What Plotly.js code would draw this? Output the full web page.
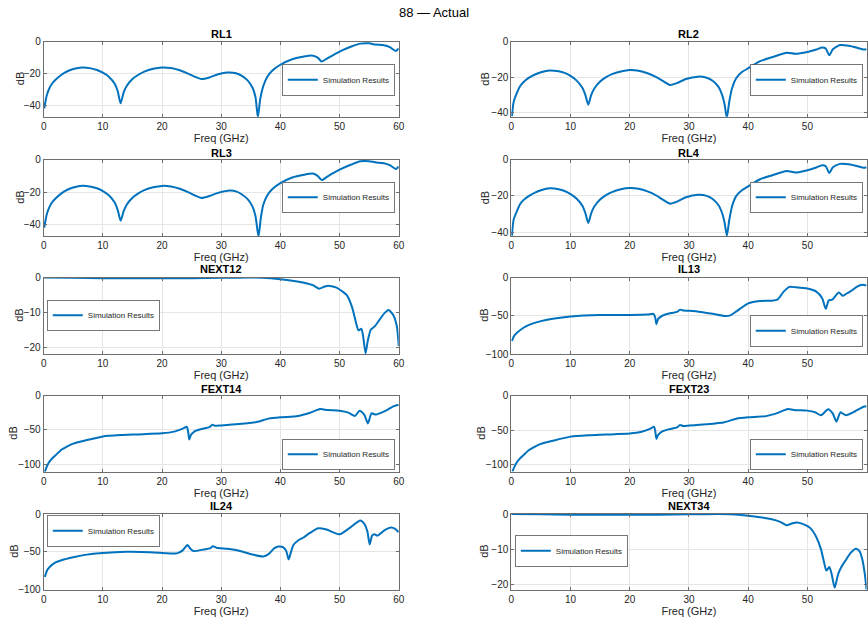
<!DOCTYPE html>
<html>
<head>
<meta charset="utf-8">
<script src="https://cdn.plot.ly/plotly-3.0.1.min.js"></script>
<style>html,body{margin:0;padding:0;background:#fff;}#chart{width:868px;height:619px;}</style>
</head>
<body>
<div id="chart"></div>
<script>
// ---------------- data ----------------
const titles = ["RL1","RL2","RL3","RL4","NEXT12","IL13","FEXT14","FEXT23","IL24","NEXT34"];
const seriesName = "Simulation Results";
const xTitle = "Freq (GHz)";
const yTitle = "dB";

const rl1X = [0.1,0.5,1,1.5,2,3,4,5,6.5,8,9,10,11,12,12.5,13,13.5,14,15,16,17,18.5,20,21.5,23,24.5,25.5,26.7,28,29.5,31,32.5,33.5,34.5,35.3,35.8,36.2,36.6,37.1,37.8,38.7,40,42,44,45.5,46.3,47,48,50,52,53.5,55,56,57.5,58.5,59.5,60];
const rl1Y = [-42,-34,-29,-26,-24,-20.8,-18.6,-17.2,-16.3,-16.8,-17.8,-19.5,-22,-26.5,-31,-38.8,-32,-28,-23.5,-20.8,-18.8,-17,-16.2,-16.6,-18,-20.2,-22,-23.5,-22.5,-20.5,-19.4,-19.8,-21.5,-24.5,-29,-35,-47.5,-36,-28,-22,-18,-14.5,-11,-9.3,-8.8,-10,-12.5,-10.3,-6.2,-3,-1.2,-1,-1.8,-2.2,-3.4,-5.8,-4.3];

const rl2X = [0.1,0.4,1,1.5,2,3,4,5,6.5,8,9,10,11,12,12.5,13,13.5,14,15,16,17,18.5,20,21.5,23,24.5,25.5,26.8,28,29.5,31.5,33,34,35,35.6,36,36.4,36.8,37.3,38,39,40,42,44,46.5,48,50,51.5,52.5,53.1,53.7,54.3,55.5,57,58.5,59.5,60];
const rl2Y = [-42,-34,-28.5,-25,-23,-20.3,-18.5,-17.2,-16.2,-16.7,-17.6,-19.3,-21.8,-26,-30,-35.5,-30,-26.5,-22.5,-20,-18.3,-16.8,-16,-16.4,-17.8,-20,-22,-24.4,-23.3,-21,-19.7,-20.3,-22,-25.5,-30,-35,-43,-34,-26,-20.5,-17,-15,-11,-8.8,-6.2,-6.8,-5.8,-4.4,-3.3,-3.9,-7.7,-4.3,-1.9,-2.3,-3.5,-4.4,-4.2];

const rl3X = [0.1,0.5,1,1.5,2,3,4,5,6.5,8,9,10,11,12,12.5,13,13.5,14,15,16,17,18.5,20,21.5,23,24.5,25.5,26.7,28,29.5,31.5,32.5,33.5,34.5,35.3,35.8,36.3,36.7,37.1,37.8,38.7,40,42,44,45.5,46.3,47,48,50,52,53.5,55,56,57.5,58.5,59.5,60];
const rl3Y = [-42,-34,-29,-26,-24,-20.8,-18.6,-17.2,-16.1,-16.7,-17.7,-19.4,-22,-26.5,-31,-37.7,-32,-28,-23.5,-20.8,-18.8,-17,-16.2,-16.6,-18,-20.2,-22,-23.7,-22.5,-20.5,-19.1,-19.6,-21.5,-24.5,-29,-35,-47.5,-36,-28,-22,-18,-14.5,-11,-9.3,-8.6,-10,-12.6,-10.3,-6.2,-3,-1,-0.9,-1.6,-2.2,-3.4,-5.8,-4.2];

const rl4X = [0.1,0.4,1,1.5,2,3,4,5,6.5,8,9,10,11,12,12.5,13,13.5,14,15,16,17,18.5,20,21.5,23,24.5,25.5,26.8,28,29.5,31.5,33,34,35,35.6,36,36.4,36.8,37.3,38,39,40,42,44,46.5,48,50,51.5,52.5,53.1,53.7,54.3,55.5,57,58.5,59.5,60];
const rl4Y = [-42,-33,-28,-24.5,-22.5,-20,-18.2,-16.9,-15.8,-16.3,-17.3,-19,-21.5,-25.5,-29.5,-35,-29.5,-26,-22,-19.6,-17.9,-16.4,-15.7,-16.1,-17.5,-19.8,-21.9,-24.3,-23.2,-20.8,-19.4,-20,-21.7,-25.2,-29.5,-34.5,-42,-33.5,-25.5,-20,-16.8,-14.8,-10.8,-8.7,-6.3,-7.1,-5.8,-4.3,-3.1,-3.6,-7.3,-4.2,-2.3,-2.5,-3.6,-4.5,-4.2];

const next12X = [0,5,10,15,20,25,30,35,37,40,42,44,45.5,46.5,47.5,48.3,49.5,50.5,51.2,52.1,52.8,53.2,53.7,54,54.4,54.8,55.3,56,56.8,57.6,58.3,59.1,59.7,60];
const next12Y = [0,-0.1,-0.2,-0.2,-0.2,-0.2,-0.1,0,-0.1,-0.5,-0.9,-1.5,-2.2,-3.2,-2.6,-2.4,-2.9,-4,-5,-8.4,-13,-15.1,-14.7,-17,-21.7,-17.9,-14.9,-13.9,-12,-10.2,-9.3,-10.8,-14.1,-19.6];

const il13X = [0.1,0.5,1,2,3,5,7,10,15,20,23,24,24.3,24.5,24.8,25.5,27,28,28.5,29,30,32,34,36,37,38,40,42,44,45,46,47,48,50,51.5,52.5,53.1,53.6,54.2,55.3,56,56.7,57.5,58.4,59.3,60];
const il13Y = [-83,-76,-72,-66,-62,-57,-54,-51,-49,-49,-48.5,-47.5,-52,-61,-54,-50,-46.5,-45,-42,-43,-43.5,-45,-47.5,-50.4,-49.5,-44.3,-33.8,-30.7,-30.3,-28.5,-18.4,-12.3,-12.8,-14.5,-18.4,-27,-41,-30,-29,-19.7,-24,-20.6,-17,-11.8,-9.6,-10.5];

const fext14X = [0.2,0.6,1,1.5,2,3,4,5,7,10,13,16,20,22,23.5,24.2,24.4,24.6,24.9,25.5,26.5,28,28.5,29,30,33,36,38,40,43,45,46.7,48,50,51.5,52.6,53.4,54.2,54.8,55.4,56.1,57,58,59,60];
const fext14Y = [-111,-102,-96,-91,-87,-79,-74,-70,-65.5,-59.5,-57.5,-56.5,-55,-52.5,-48,-45.5,-52,-64,-57,-52,-49,-46,-42.5,-44,-43.5,-41.5,-38.5,-33.5,-31.5,-29.7,-25,-19.5,-21,-22,-24.8,-29.7,-21.9,-28,-40.5,-25.8,-27.5,-25,-21,-16,-13.3];

const fext23X = [0.2,0.6,1,1.5,2,3,4,5,7,10,13,16,20,22,23.5,24.1,24.3,24.5,24.8,25.5,26.5,28,28.5,29,30,33,36,38,40,43,45,46.7,48,50,51.3,52.3,53.5,54.3,54.9,55.6,56.5,58,59.5,60];
const fext23Y = [-110,-102,-96,-91,-87,-79,-74,-70,-65.5,-59.5,-57.5,-56.5,-55,-52.5,-48,-45,-51,-62.8,-57,-52,-49,-46,-42.5,-44,-43.5,-41.5,-38.5,-33.5,-31.5,-29.7,-25,-19.3,-21,-21.7,-24,-28.5,-19.8,-26,-37.7,-24,-28.5,-23,-16,-15.3];

const il24X = [0.2,0.6,1,2,3,5,7,10,14,18,21,22.5,23.5,24.3,24.8,25.3,27,28.2,28.6,29.2,31,33,35,37.1,38,39,39.7,40.5,41,41.4,41.8,42.2,43,43.9,45,46.4,47.8,50,51.8,53.5,54.2,54.7,55.1,55.5,55.9,56.4,57.7,58.7,59.4,60];
const il24Y = [-83,-74,-70,-64,-61,-57,-54,-51.5,-50,-50.5,-52,-52,-48,-41,-46,-49,-47,-45,-42.5,-44.5,-46,-48.5,-53,-56,-53,-45,-43,-44,-49,-60,-50,-41,-35,-31,-25,-18.8,-20.5,-26.8,-17.9,-8.5,-13,-22.8,-40.2,-28.6,-26.6,-28.6,-21,-17.9,-19.7,-24.1];

const next34X = [0,5,10,15,20,25,30,35,37,40,42,44,45.5,46.5,47.5,48.3,49.5,50.5,51.5,52.3,52.8,53.2,53.7,54.1,54.6,55.2,55.8,56.5,57.3,58.2,58.8,59.3,59.7,60];
const next34Y = [0,-0.1,-0.2,-0.2,-0.2,-0.2,-0.1,0,-0.1,-0.5,-0.9,-1.5,-2.3,-3.2,-2.6,-2.4,-3,-4,-6.5,-10,-13.5,-16,-15,-17,-20.8,-17,-14.8,-13,-11,-9.8,-10.5,-13,-17,-21.4];

const xTickVals = [0,10,20,30,40,50,60];
const yRanges = [[-47.2,0],[-42.3,0],[-47.2,0],[-42.2,0],[-21.9,0],[-100,0],[-111,0],[-110.5,0],[-100,0],[-21.4,0]];
const yDticks = [20,20,20,20,10,50,50,50,50,10];

// ---------------- layout (pixels) ----------------
const W = 868, H = 619;
const allX = [rl1X,rl2X,rl3X,rl4X,next12X,il13X,fext14X,fext23X,il24X,next34X];
const allY = [rl1Y,rl2Y,rl3Y,rl4Y,next12Y,il13Y,fext14Y,fext23Y,il24Y,next34Y];
const colPx = [[43.7,398.7],[511.3,866.6]];
const rowPx = [[41.7,116.7],[159.7,236],[277.5,354],[395.7,471.7],[514,589.7]];
const titleY = [34.5,153,269,389,506];
const yTitleX = [20,485.5,20,484.5,19,484,13,481,14,484];
// legend anchor: [xpx, ypx, xanchor, yanchor]
const legPos = [[395,80,'right','middle'],[863,80,'right','middle'],
                [395,197.5,'right','middle'],[863,197.5,'right','middle'],
                [47,315.5,'left','middle'],[863,331,'right','middle'],
                [395,470,'right','bottom'],[863,470,'right','bottom'],
                [47,515.5,'left','top'],[515,551,'left','middle']];

const font = "Liberation Sans, Arial, Helvetica, sans-serif";
const axisCol = '#6e6e6e';
const textCol = '#262626';

const data = [];
const layout = {
  width: W, height: H,
  margin: {l:0, r:0, t:0, b:0},
  paper_bgcolor: '#fff', plot_bgcolor: '#fff',
  font: {family: font, color: textCol, size: 10},
  title: {text: '88 — Actual', x: 0.5, xanchor: 'center', y: 1 - 12/H, yanchor: 'middle',
          font: {family: font, size: 13, color: '#000'}},
  showlegend: true,
  annotations: []
};

for (let i = 0; i < 10; i++) {
  const k = i + 1;
  const col = i % 2, row = Math.floor(i / 2);
  const xs = k === 1 ? '' : String(k);
  const xd = [colPx[col][0]/W, colPx[col][1]/W];
  const yd = [1 - rowPx[row][1]/H, 1 - rowPx[row][0]/H];
  const legName = 'legend' + xs;
  data.push({
    x: allX[i], y: allY[i], type: 'scatter', mode: 'lines', name: seriesName,
    xaxis: 'x' + xs, yaxis: 'y' + xs, legend: legName,
    line: {color: '#0072BD', width: 2, shape: 'spline', smoothing: 0.6},
    hoverinfo: 'x+y'
  });
  layout['xaxis' + xs] = {
    domain: xd, anchor: 'y' + xs, range: [0, 60], tickvals: xTickVals,
    showgrid: true, gridcolor: '#e6e6e6', gridwidth: 1, zeroline: false,
    showline: true, linecolor: axisCol, linewidth: 1, mirror: 'ticks',
    ticks: 'inside', ticklen: 3, tickcolor: axisCol,
    tickfont: {size: 10, color: textCol, family: font},
    title: {text: xTitle, font: {size: 11, color: textCol, family: font}, standoff: 2},
    automargin: false, fixedrange: true
  };
  layout['yaxis' + xs] = {
    domain: yd, anchor: 'x' + xs, range: yRanges[i], dtick: yDticks[i], tick0: 0,
    showgrid: true, gridcolor: '#e6e6e6', gridwidth: 1, zeroline: false,
    showline: true, linecolor: axisCol, linewidth: 1, mirror: 'ticks',
    ticks: 'inside', ticklen: 3, tickcolor: axisCol,
    tickfont: {size: 10, color: textCol, family: font},
    automargin: false, fixedrange: true
  };
  layout[legName] = {
    x: legPos[i][0]/W, y: 1 - legPos[i][1]/H, xanchor: legPos[i][2], yanchor: legPos[i][3],
    xref: 'paper', yref: 'paper',
    bgcolor: '#fff', bordercolor: '#555', borderwidth: 0.8,
    font: {size: 8, color: textCol, family: font}, itemwidth: 30,
    tracegroupgap: 0
  };
  layout.annotations.push({
    text: '<b>' + titles[i] + '</b>', xref: 'paper', yref: 'paper',
    x: (xd[0] + xd[1]) / 2, y: 1 - titleY[row]/H, xanchor: 'center', yanchor: 'middle',
    showarrow: false, font: {size: 11, color: '#000', family: font}
  });
  layout.annotations.push({
    text: yTitle, xref: 'paper', yref: 'paper', textangle: -90,
    x: yTitleX[i]/W, y: (yd[0] + yd[1]) / 2, xanchor: 'center', yanchor: 'middle',
    showarrow: false, font: {size: 11, color: textCol, family: font}
  });
}

Plotly.newPlot('chart', data, layout, {displayModeBar: false, staticPlot: true});
</script>
</body>
</html>
